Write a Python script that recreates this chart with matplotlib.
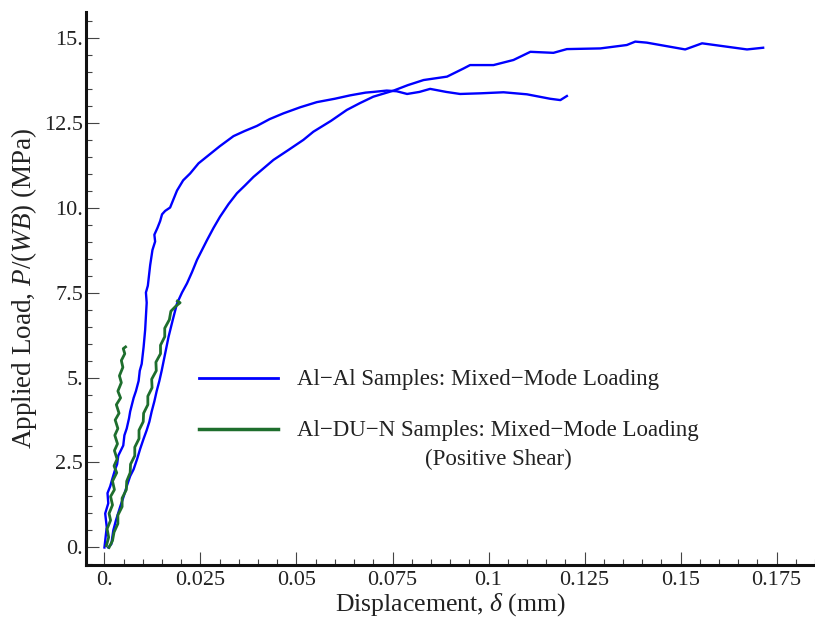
import matplotlib
matplotlib.use("Agg")
import matplotlib.pyplot as plt
from matplotlib.lines import Line2D
from matplotlib.ticker import FixedLocator, FixedFormatter, MultipleLocator

plt.rcParams['font.family'] = ['Liberation Serif', 'DejaVu Serif']
plt.rcParams['mathtext.fontset'] = 'custom'
plt.rcParams['mathtext.rm'] = 'Liberation Serif'
plt.rcParams['mathtext.it'] = 'Liberation Serif:italic'

# ---- data ----
al_al_a_x = [0.0000, 0.0003, 0.0006, 0.0002, 0.0010, 0.0008, 0.0015, 0.0020, 0.0028, 0.0033,
             0.0036, 0.0049, 0.0052, 0.0058, 0.0064, 0.0067, 0.0076, 0.0082, 0.0089, 0.0092,
             0.0097, 0.0102, 0.0106, 0.0108, 0.0110, 0.0108, 0.0113, 0.0117, 0.0119, 0.0125,
             0.0132, 0.0130, 0.0138, 0.0145, 0.0150, 0.0158, 0.0171, 0.0189, 0.0205, 0.0223,
             0.0245, 0.0267, 0.0300, 0.0336, 0.0365, 0.0397, 0.0430, 0.0466, 0.0510, 0.0553,
             0.0600, 0.0640, 0.0680, 0.0700, 0.0735, 0.0761, 0.0788, 0.0820, 0.0848, 0.0890,
             0.0926, 0.0980, 0.1039, 0.1100, 0.1160, 0.1187, 0.1204]
al_al_a_y = [0.00, 0.30, 0.60, 1.00, 1.30, 1.60, 1.80, 2.00, 2.30, 2.45,
             2.70, 3.00, 3.30, 3.50, 3.80, 4.00, 4.40, 4.60, 4.90, 5.20,
             5.40, 5.90, 6.40, 6.80, 7.20, 7.50, 7.70, 8.10, 8.30, 8.75,
             9.00, 9.20, 9.40, 9.60, 9.80, 9.90, 10.00, 10.50, 10.80, 11.00,
             11.30, 11.50, 11.80, 12.10, 12.25, 12.40, 12.60, 12.77, 12.95, 13.10,
             13.20, 13.30, 13.38, 13.40, 13.44, 13.42, 13.34, 13.40, 13.49, 13.40,
             13.34, 13.36, 13.39, 13.33, 13.20, 13.16, 13.28]

al_al_b_x = [0.0010, 0.0018, 0.0023, 0.0030, 0.0041, 0.0050, 0.0058, 0.0067, 0.0076, 0.0085,
             0.0093, 0.0102, 0.0110, 0.0117, 0.0123, 0.0130, 0.0136, 0.0143, 0.0149, 0.0158,
             0.0167, 0.0178, 0.0189, 0.0202, 0.0215, 0.0228, 0.0241, 0.0254, 0.0267, 0.0284,
             0.0301, 0.0323, 0.0345, 0.0366, 0.0388, 0.0414, 0.0440, 0.0480, 0.0518, 0.0544,
             0.0590, 0.0631, 0.0665, 0.0700, 0.0753, 0.0790, 0.0831, 0.0892, 0.0935, 0.0952,
             0.1013, 0.1065, 0.1109, 0.1169, 0.1204, 0.1291, 0.1360, 0.1382, 0.1412, 0.1512,
             0.1556, 0.1673, 0.1715]
al_al_b_y = [0.00, 0.10, 0.50, 0.80, 1.20, 1.50, 1.80, 2.10, 2.30, 2.60,
             2.90, 3.20, 3.45, 3.70, 4.00, 4.30, 4.60, 4.90, 5.20, 5.70,
             6.20, 6.70, 7.18, 7.50, 7.77, 8.10, 8.46, 8.75, 9.04, 9.40,
             9.73, 10.10, 10.42, 10.65, 10.90, 11.15, 11.40, 11.70, 11.99, 12.23,
             12.55, 12.87, 13.07, 13.26, 13.44, 13.60, 13.75, 13.85, 14.09, 14.19,
             14.19, 14.34, 14.58, 14.55, 14.66, 14.68, 14.78, 14.88, 14.85, 14.65,
             14.83, 14.65, 14.70]

al_du_a_x = [0.0005, 0.0011, 0.0007, 0.0016, 0.0012, 0.0021, 0.0016, 0.0026, 0.0021, 0.0032,
             0.0025, 0.0033, 0.0026, 0.0034, 0.0027, 0.0035, 0.0028, 0.0038, 0.0031, 0.0042,
             0.0035, 0.0044, 0.0039, 0.0048, 0.0044, 0.0053, 0.0049, 0.0055]
al_du_a_y = [0.05, 0.30, 0.55, 0.80, 1.00, 1.25, 1.50, 1.70, 1.95, 2.20,
             2.40, 2.60, 2.85, 3.05, 3.30, 3.50, 3.75, 3.95, 4.20, 4.40,
             4.60, 4.85, 5.05, 5.30, 5.50, 5.70, 5.85, 5.90]

al_du_b_x = [0.0012, 0.0021, 0.0025, 0.0035, 0.0035, 0.0046, 0.0046, 0.0057, 0.0058, 0.0067,
             0.0068, 0.0079, 0.0079, 0.0090, 0.0090, 0.0101, 0.0102, 0.0113, 0.0113, 0.0124,
             0.0123, 0.0135, 0.0134, 0.0146, 0.0146, 0.0157, 0.0157, 0.0169, 0.0173, 0.0186,
             0.0197, 0.0190]
al_du_b_y = [0.00, 0.20, 0.45, 0.70, 0.95, 1.20, 1.45, 1.70, 1.95, 2.20,
             2.45, 2.70, 2.95, 3.20, 3.45, 3.70, 3.95, 4.20, 4.45, 4.70,
             4.95, 5.20, 5.45, 5.70, 5.95, 6.20, 6.45, 6.70, 6.95, 7.10,
             7.20, 7.25]

x_ticks = [0.0, 0.025, 0.05, 0.075, 0.1, 0.125, 0.15, 0.175]
x_tick_labels = ["0.", "0.025", "0.05", "0.075", "0.1", "0.125", "0.15", "0.175"]
y_ticks = [0.0, 2.5, 5.0, 7.5, 10.0, 12.5, 15.0]
y_tick_labels = ["0.", "2.5", "5.", "7.5", "10.", "12.5", "15."]

legend_labels = ["Al\u2212Al Samples: Mixed\u2212Mode Loading",
                 "Al\u2212DU\u2212N Samples: Mixed\u2212Mode Loading"]
legend_sublabel = "(Positive Shear)"

BLUE = "#0000ff"
GREEN = "#1e6e2d"
TXT = "#222222"

W, H = 815, 623
fig = plt.figure(figsize=(W / 100, H / 100), dpi=100)
ax = fig.add_axes([86 / W, 58 / H, 1 - 86 / W, (565 - 11.7) / H])

ax.plot(al_al_a_x, al_al_a_y, color=BLUE, lw=1.7)
ax.plot(al_al_b_x, al_al_b_y, color=BLUE, lw=1.7)
ax.plot(al_du_a_x, al_du_a_y, color=GREEN, lw=2.0)
ax.plot(al_du_b_x, al_du_b_y, color=GREEN, lw=2.0)

ax.set_xlim(-0.0048, 0.185)
ax.set_ylim(-0.515, 15.76)

ax.xaxis.set_major_locator(FixedLocator(x_ticks))
ax.xaxis.set_major_formatter(FixedFormatter(x_tick_labels))
ax.yaxis.set_major_locator(FixedLocator(y_ticks))
ax.yaxis.set_major_formatter(FixedFormatter(y_tick_labels))
ax.xaxis.set_minor_locator(MultipleLocator(0.005))
ax.yaxis.set_minor_locator(MultipleLocator(0.5))

for s in ['top', 'right']:
    ax.spines[s].set_visible(False)
for s in ['left', 'bottom']:
    ax.spines[s].set_linewidth(2.2)
    ax.spines[s].set_color('#111111')

ax.tick_params(which='major', direction='in', length=9.5, width=0.8, color='#444444',
               labelsize=16, labelcolor=TXT, pad=4)
ax.tick_params(which='minor', direction='in', length=4.3, width=0.8, color='#444444')
ax.tick_params(axis='y', which='major', pad=2)

ax.set_xlabel(r"Displacement, $\delta$ (mm)", fontsize=18.5, color=TXT, labelpad=1)
ax.set_ylabel(r"Applied Load, $P/(WB)$ (MPa)", fontsize=19.5, color=TXT, labelpad=4)

# legend (drawn in figure pixel coordinates)
def fx(px):
    return px / W

def fy(py):
    return 1 - py / H

leg_rows = [(legend_labels[0], BLUE, 378.3, 2.0), (legend_labels[1], GREEN, 429.3, 2.5)]
for label, col, ypx, lw in leg_rows:
    fig.add_artist(Line2D([fx(199), fx(278)], [fy(ypx), fy(ypx)], color=col, lw=lw,
                          transform=fig.transFigure))
    fig.text(fx(297), fy(ypx + 6.5), label, fontsize=16.5, color=TXT,
             ha='left', va='baseline')
fig.text(fx(498), fy(465), legend_sublabel, fontsize=16.5, color=TXT,
         ha='center', va='baseline')

fig.savefig("out.png", dpi=100)
